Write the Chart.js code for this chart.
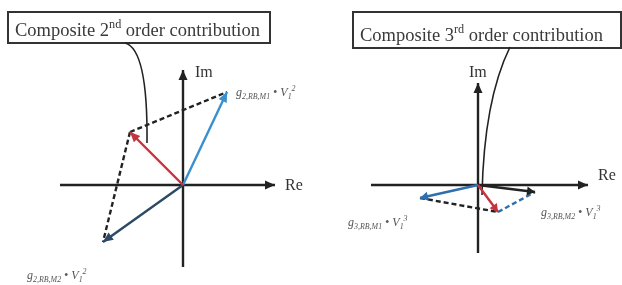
<!DOCTYPE html>
<html>
<head>
<meta charset="utf-8">
<script src="https://cdn.jsdelivr.net/npm/chart.js@4"></script>
<style>
  html, body { margin: 0; padding: 0; background: #fff; }
  .wrap { display: flex; width: 622px; height: 285px; }
</style>
</head>
<body>
<div class="wrap">
  <canvas id="c2" width="311" height="285"></canvas>
  <canvas id="c3" width="311" height="285"></canvas>
</div>
<script>
// phasors (Re, Im), arbitrary units
const g2M1 = [4.4, 9.3];     // g2,RB,M1 * V1^2
const g2M2 = [-8.0, -5.7];   // g2,RB,M2 * V1^2
const sum2 = [-5.3, 5.3];    // composite 2nd order

const g3M1 = [-5.8, -1.3];   // g3,RB,M1 * V1^3
const g3M2 = [5.7, -0.7];    // g3,RB,M2 * V1^3
const sum3 = [2.0, -2.7];    // composite 3rd order

const titles = ['Composite 2', 'Composite 3'];
const titleSup = ['nd', 'rd'];
const axisNames = ['Re', 'Im'];

const SERIF = '"Liberation Serif", "DejaVu Serif", serif';
const pt = v => ({ x: v[0], y: v[1] });
const O = { x: 0, y: 0 };

function line(data, color, opts) {
  return Object.assign({
    data: data,
    showLine: true,
    borderColor: color,
    backgroundColor: color,
    borderWidth: 2.4,
    pointRadius: 0,
    pointHoverRadius: 0,
    fill: false
  }, opts || {});
}

// draws text made of pieces: s = 0 normal, -1 subscript, 1 superscript
function drawRich(ctx, x, y, parts, size, style) {
  let cx = x;
  parts.forEach(p => {
    const fs = p.s ? size * 0.66 : size;
    ctx.font = (style || '') + ' ' + fs + 'px ' + SERIF;
    const dy = p.s === -1 ? size * 0.28 : p.s === 1 ? -size * 0.42 : 0;
    ctx.fillText(p.t, cx, y + dy);
    cx += ctx.measureText(p.t).width;
  });
}

const extras = {
  id: 'extras',
  beforeDatasetsDraw(chart) {
    const o = chart.options.plugins.extras;
    const { ctx, scales: { x, y } } = chart;
    const px = p => [x.getPixelForValue(p[0]), y.getPixelForValue(p[1])];
    ctx.save();
    // title box
    const b = o.box;
    const [x0, y0] = px([b.x0, b.y0]);
    const [x1, y1] = px([b.x1, b.y1]);
    ctx.fillStyle = '#fff';
    ctx.fillRect(x0, y0, x1 - x0, y1 - y0);
    ctx.strokeStyle = '#333';
    ctx.lineWidth = 2;
    ctx.strokeRect(x0, y0, x1 - x0, y1 - y0);
    ctx.fillStyle = '#3a3a3a';
    ctx.textBaseline = 'alphabetic';
    drawRich(ctx, x0 + 7, y1 - 7, [
      { t: b.text, s: 0 }, { t: b.sup, s: 1 }, { t: ' order contribution', s: 0 }
    ], 18.5);
    // leader curve
    const [a, c, e] = o.leader.map(px);
    ctx.beginPath();
    ctx.moveTo(a[0], a[1]);
    ctx.quadraticCurveTo(c[0], c[1], e[0], e[1]);
    ctx.strokeStyle = '#222';
    ctx.lineWidth = 1.6;
    ctx.stroke();
    ctx.restore();
  },
  afterDatasetsDraw(chart) {
    const o = chart.options.plugins.extras;
    const { ctx, scales: { x, y } } = chart;
    ctx.save();
    // arrow heads at the last point of flagged datasets
    chart.data.datasets.forEach((ds, i) => {
      if (!ds.arrow) return;
      const pts = chart.getDatasetMeta(i).data;
      const p1 = pts[pts.length - 2], p2 = pts[pts.length - 1];
      const ang = Math.atan2(p2.y - p1.y, p2.x - p1.x);
      const L = ds.headLen || 10, W = ds.headW || 4.5;
      ctx.beginPath();
      ctx.moveTo(p2.x, p2.y);
      ctx.lineTo(p2.x - L * Math.cos(ang) + W * Math.sin(ang), p2.y - L * Math.sin(ang) - W * Math.cos(ang));
      ctx.lineTo(p2.x - L * Math.cos(ang) - W * Math.sin(ang), p2.y - L * Math.sin(ang) + W * Math.cos(ang));
      ctx.closePath();
      ctx.fillStyle = ds.borderColor;
      ctx.fill();
    });
    // labels
    o.labels.forEach(l => {
      ctx.fillStyle = l.color || '#333';
      ctx.textAlign = 'left';
      ctx.textBaseline = 'alphabetic';
      const px = x.getPixelForValue(l.x), py = y.getPixelForValue(l.y);
      drawRich(ctx, px, py, l.parts, l.size, l.style);
    });
    ctx.restore();
  }
};

function gLabel(order, m) {
  return [
    { t: 'g', s: 0 }, { t: order + ',RB,M' + m, s: -1 }, { t: ' \u2022 ', s: 0 },
    { t: 'V', s: 0 }, { t: '1', s: -1 }, { t: String(order), s: 1 }
  ];
}

function makeChart(id, cfg) {
  new Chart(document.getElementById(id), {
    type: 'scatter',
    data: { datasets: cfg.datasets },
    options: {
      responsive: false,
      animation: false,
      events: [],
      layout: { padding: 0 },
      scales: {
        x: { type: 'linear', display: false, min: cfg.xr[0], max: cfg.xr[1] },
        y: { type: 'linear', display: false, min: cfg.yr[0], max: cfg.yr[1] }
      },
      plugins: {
        legend: { display: false },
        tooltip: { enabled: false },
        extras: cfg.extras
      }
    },
    plugins: [extras]
  });
}

const AX = '#222';
const DASH = { borderDash: [5, 3], borderWidth: 2.4 };

// 2nd order panel
makeChart('c2', {
  xr: [-18.3, 12.8],
  yr: [-10.0, 18.5],
  datasets: [
    line([O, pt(sum2)], '#c8323c', { arrow: true }),
    line([O, pt(g2M1)], '#3a8fd0', { arrow: true }),
    line([O, pt(g2M2)], '#2c4a66', { arrow: true }),
    line([pt(sum2), pt(g2M1)], '#222', DASH),
    line([pt(sum2), pt(g2M2)], '#222', DASH),
    line([{ x: -12.3, y: 0 }, { x: 9.2, y: 0 }], AX, { arrow: true }),
    line([{ x: 0, y: -8.2 }, { x: 0, y: 11.5 }], AX, { arrow: true })
  ],
  extras: {
    box: { x0: -17.5, y0: 17.3, x1: 8.7, y1: 14.2, text: titles[0], sup: titleSup[0] },
    leader: [[-5.8, 14.2], [-3.5, 13.6], [-3.6, 4.2]],
    labels: [
      { x: 1.2, y: 10.8, parts: [{ t: axisNames[1], s: 0 }], size: 16, color: '#333' },
      { x: 10.2, y: -0.5, parts: [{ t: axisNames[0], s: 0 }], size: 16, color: '#333' },
      { x: 5.3, y: 8.9, parts: gLabel(2, 1), size: 12, style: 'italic', color: '#555' },
      { x: -15.6, y: -9.4, parts: gLabel(2, 2), size: 12, style: 'italic', color: '#555' }
    ]
  }
});

// 3rd order panel
makeChart('c3', {
  xr: [-16.7, 14.4],
  yr: [-10.0, 18.5],
  datasets: [
    line([O, pt(sum3)], '#c8323c', { arrow: true, headLen: 8 }),
    line([O, pt(g3M1)], '#2f6fae', { arrow: true, headLen: 8 }),
    line([O, pt(g3M2)], '#222', { arrow: true, headLen: 8 }),
    line([pt(g3M1), pt(sum3)], '#222', DASH),
    line([pt(sum3), pt(g3M2)], '#2f6fae', DASH),
    line([{ x: -10.7, y: 0 }, { x: 11.0, y: 0 }], AX, { arrow: true }),
    line([{ x: 0, y: -6.8 }, { x: 0, y: 10.2 }], AX, { arrow: true })
  ],
  extras: {
    box: { x0: -12.5, y0: 17.3, x1: 14.3, y1: 13.7, text: titles[1], sup: titleSup[1] },
    leader: [[3.2, 13.8], [0.6, 8.5], [0.4, -1.0]],
    labels: [
      { x: -0.9, y: 10.8, parts: [{ t: axisNames[1], s: 0 }], size: 16, color: '#333' },
      { x: 12.0, y: 0.5, parts: [{ t: axisNames[0], s: 0 }], size: 16, color: '#333' },
      { x: -13.0, y: -4.1, parts: gLabel(3, 1), size: 12, style: 'italic', color: '#555' },
      { x: 6.3, y: -3.1, parts: gLabel(3, 2), size: 12, style: 'italic', color: '#555' }
    ]
  }
});
</script>
</body>
</html>
